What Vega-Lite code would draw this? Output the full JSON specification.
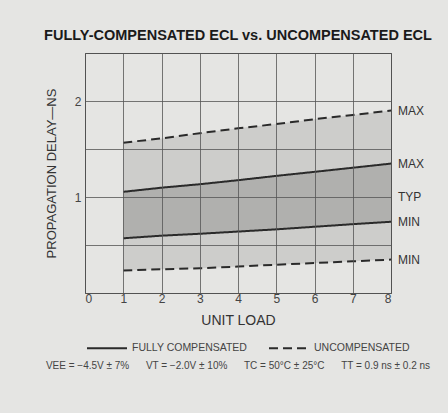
{
  "$schema": "https://vega.github.io/schema/vega-lite/v6.json",
  "width": 306,
  "height": 240,
  "padding": {"left": 43, "top": 28, "right": 20, "bottom": 50},
  "background": "#e5e5e3",
  "title": {
    "text": "FULLY-COMPENSATED ECL vs. UNCOMPENSATED ECL",
    "font": "Liberation Sans",
    "fontSize": 14.5,
    "fontWeight": "bold",
    "color": "#1a1a1a",
    "anchor": "middle",
    "offset": 9
  },
  "config": {
    "view": {"stroke": "#444", "strokeWidth": 1},
    "font": "Liberation Sans",
    "legend": {"layout": {"bottom": {"anchor": "middle"}}},
    "axis": {
      "labelFont": "Liberation Sans",
      "titleFont": "Liberation Sans",
      "labelColor": "#444",
      "titleColor": "#333",
      "titleFontWeight": "normal",
      "gridColor": "#555",
      "gridOpacity": 1,
      "gridWidth": 0.8,
      "domainOpacity": 0,
      "tickSize": 0
    }
  },
  "data": {
    "values": [
      {"load": 1, "series": "UNCOMPENSATED", "bound": "MAX", "delay": 1.566},
      {"load": 2, "series": "UNCOMPENSATED", "bound": "MAX", "delay": 1.61},
      {"load": 3, "series": "UNCOMPENSATED", "bound": "MAX", "delay": 1.665},
      {"load": 4, "series": "UNCOMPENSATED", "bound": "MAX", "delay": 1.715},
      {"load": 5, "series": "UNCOMPENSATED", "bound": "MAX", "delay": 1.76},
      {"load": 6, "series": "UNCOMPENSATED", "bound": "MAX", "delay": 1.81},
      {"load": 7, "series": "UNCOMPENSATED", "bound": "MAX", "delay": 1.855},
      {"load": 8, "series": "UNCOMPENSATED", "bound": "MAX", "delay": 1.9},
      {"load": 1, "series": "UNCOMPENSATED", "bound": "MIN", "delay": 0.234},
      {"load": 2, "series": "UNCOMPENSATED", "bound": "MIN", "delay": 0.247},
      {"load": 3, "series": "UNCOMPENSATED", "bound": "MIN", "delay": 0.258},
      {"load": 4, "series": "UNCOMPENSATED", "bound": "MIN", "delay": 0.275},
      {"load": 5, "series": "UNCOMPENSATED", "bound": "MIN", "delay": 0.295},
      {"load": 6, "series": "UNCOMPENSATED", "bound": "MIN", "delay": 0.312},
      {"load": 7, "series": "UNCOMPENSATED", "bound": "MIN", "delay": 0.33},
      {"load": 8, "series": "UNCOMPENSATED", "bound": "MIN", "delay": 0.348},
      {"load": 1, "series": "FULLY COMPENSATED", "bound": "MAX", "delay": 1.054},
      {"load": 2, "series": "FULLY COMPENSATED", "bound": "MAX", "delay": 1.097},
      {"load": 3, "series": "FULLY COMPENSATED", "bound": "MAX", "delay": 1.133},
      {"load": 4, "series": "FULLY COMPENSATED", "bound": "MAX", "delay": 1.175},
      {"load": 5, "series": "FULLY COMPENSATED", "bound": "MAX", "delay": 1.22},
      {"load": 6, "series": "FULLY COMPENSATED", "bound": "MAX", "delay": 1.262},
      {"load": 7, "series": "FULLY COMPENSATED", "bound": "MAX", "delay": 1.305},
      {"load": 8, "series": "FULLY COMPENSATED", "bound": "MAX", "delay": 1.348},
      {"load": 1, "series": "FULLY COMPENSATED", "bound": "MIN", "delay": 0.57},
      {"load": 2, "series": "FULLY COMPENSATED", "bound": "MIN", "delay": 0.597},
      {"load": 3, "series": "FULLY COMPENSATED", "bound": "MIN", "delay": 0.617},
      {"load": 4, "series": "FULLY COMPENSATED", "bound": "MIN", "delay": 0.64},
      {"load": 5, "series": "FULLY COMPENSATED", "bound": "MIN", "delay": 0.663},
      {"load": 6, "series": "FULLY COMPENSATED", "bound": "MIN", "delay": 0.69},
      {"load": 7, "series": "FULLY COMPENSATED", "bound": "MIN", "delay": 0.717},
      {"load": 8, "series": "FULLY COMPENSATED", "bound": "MIN", "delay": 0.742}
    ]
  },
  "encoding": {
    "x": {
      "field": "load", "type": "quantitative",
      "scale": {"domain": [0, 8], "nice": false},
      "axis": {
        "title": "UNIT LOAD", "titleFontSize": 14, "titlePadding": 9,
        "tickCount": 8, "labelFontSize": 12, "labelPadding": 0,
        "grid": true, "zindex": 1
      }
    }
  },
  "layer": [
    {
      "transform": [
        {"filter": "datum.series == 'UNCOMPENSATED'"},
        {"pivot": "bound", "value": "delay", "groupby": ["load", "series"]}
      ],
      "mark": {"type": "area", "fill": "#cdcdcb", "opacity": 1},
      "encoding": {
        "y": {
          "field": "MIN", "type": "quantitative",
          "scale": {"domain": [0, 2.5], "nice": false},
          "axis": {
            "title": "PROPAGATION DELAY—NS", "titleFontSize": 13, "titlePadding": 16,
            "values": [0, 0.5, 1, 1.5, 2, 2.5], "labelFontSize": 12, "labelPadding": 4,
            "labelExpr": "datum.value == 1 || datum.value == 2 ? format(datum.value, 'd') : ''",
            "grid": true, "zindex": 1
          }
        },
        "y2": {"field": "MAX"}
      }
    },
    {
      "transform": [
        {"filter": "datum.series == 'FULLY COMPENSATED'"},
        {"pivot": "bound", "value": "delay", "groupby": ["load", "series"]}
      ],
      "mark": {"type": "area", "fill": "#b0b0ae", "opacity": 1},
      "encoding": {
        "y": {"field": "MIN", "type": "quantitative"},
        "y2": {"field": "MAX"}
      }
    },
    {
      "mark": {"type": "line", "color": "#2a2a2a", "strokeWidth": 2},
      "encoding": {
        "y": {"field": "delay", "type": "quantitative"},
        "detail": {"field": "bound"},
        "strokeDash": {
          "field": "series", "type": "nominal",
          "scale": {"domain": ["FULLY COMPENSATED", "UNCOMPENSATED"], "range": [[1, 0], [9, 5]]},
          "legend": {
            "orient": "bottom",
            "direction": "horizontal",
            "title": "VEE = −4.5V ± 7%\u00a0\u00a0\u00a0\u00a0\u00a0\u00a0VT = −2.0V ± 10%\u00a0\u00a0\u00a0\u00a0\u00a0\u00a0TC = 50°C ± 25°C\u00a0\u00a0\u00a0\u00a0\u00a0\u00a0TT = 0.9 ns ± 0.2 ns",
            "titleOrient": "bottom",
            "titleAnchor": "middle",
            "titleLimit": 500,
            "titleFontSize": 10,
            "titleFontWeight": "normal",
            "titleColor": "#444",
            "titleFont": "Liberation Sans",
            "titlePadding": 7,
            "labelFont": "Liberation Sans",
            "labelFontSize": 10.5,
            "labelColor": "#444",
            "labelOffset": 4,
            "symbolType": "stroke",
            "symbolSize": 1600,
            "symbolOffset": 20,
            "symbolStrokeColor": "#2a2a2a",
            "symbolStrokeWidth": 2,
            "columnPadding": 0,
            "offset": 0
          }
        }
      }
    },
    {
      "transform": [{"filter": "datum.load == 8"}],
      "mark": {"type": "text", "align": "left", "dx": 7, "fontSize": 12, "color": "#333", "font": "Liberation Sans"},
      "encoding": {
        "y": {"field": "delay", "type": "quantitative"},
        "text": {"field": "bound"}
      }
    },
    {
      "transform": [{"filter": "datum.load == 8 && datum.series == 'FULLY COMPENSATED' && datum.bound == 'MAX'"}],
      "mark": {"type": "text", "align": "left", "dx": 7, "fontSize": 12, "color": "#333", "font": "Liberation Sans"},
      "encoding": {
        "y": {"datum": 1},
        "text": {"value": "TYP"}
      }
    }
  ]
}
